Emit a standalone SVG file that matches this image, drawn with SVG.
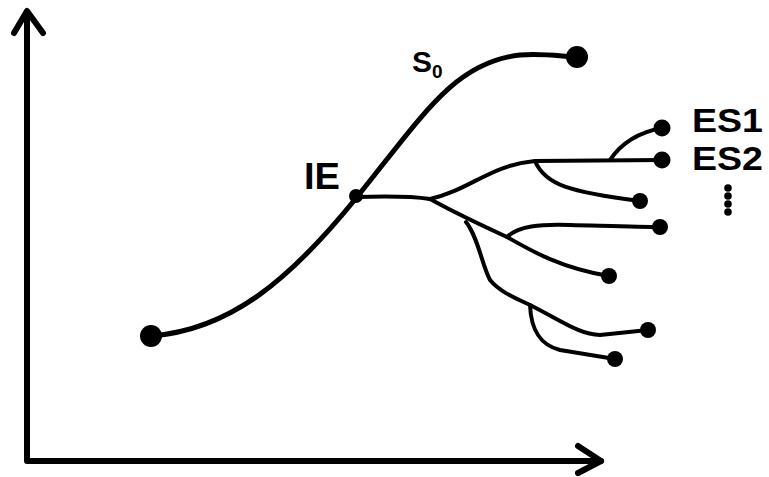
<svg xmlns="http://www.w3.org/2000/svg" width="769" height="477" viewBox="0 0 769 477">
<style>
.ax{fill:none;stroke:#000;stroke-width:6;stroke-linecap:round;stroke-linejoin:round}
.main{fill:none;stroke:#000;stroke-width:5;stroke-linecap:round}
.br{fill:none;stroke:#000;stroke-width:4;stroke-linecap:round;stroke-linejoin:round}
.dot{fill:#000}
.lbl{font-family:"Liberation Sans",Arial,sans-serif;font-weight:bold;fill:#000}
</style>
<g id="axes">
<path class="ax" d="M27,12 V461 H601"/>
<polyline class="ax" points="14,33 27,11 43,33"/>
<polyline class="ax" points="578,446 601,461 578,473"/>
</g>
<g id="connectors">
<path class="main" d="M151,336 C230,330 290,280 357,197 C424,114 455,62 520,55 C545,53 565,57 577,57"/>
<path class="br" d="M357,197 C390,196 410,196 430,199"/>
<path class="br" d="M430,199 C470,190 490,165 535,161 L662,160"/>
<path class="br" d="M610,160 C622,142 640,132 662,128"/>
<path class="br" d="M535,161 C545,185 570,192 640,201"/>
<path class="br" d="M430,199 C450,210 470,220 507,237 C530,250 560,268 609,276"/>
<path class="br" d="M507,237 C518,226 540,224 570,225 C610,226 640,227 660,227"/>
<path class="br" d="M466,222 C478,237 482,265 490,280 C500,292 515,298 530,305 C560,320 580,335 600,335 L648,330"/>
<path class="br" d="M530,305 C531,330 540,345 560,350 L615,359"/>
</g>
<g id="S0">
<circle class="dot" cx="151" cy="336" r="11"/>
<circle class="dot" cx="577" cy="57" r="11"/>
<text class="lbl" x="412" y="72" font-size="30">S</text>
<text class="lbl" x="432" y="78" font-size="19">0</text>
</g>
<g id="IE">
<circle class="dot" cx="356" cy="196" r="7"/>
<text class="lbl" x="304" y="189" font-size="36" textLength="36" lengthAdjust="spacingAndGlyphs">IE</text>
</g>
<g id="ES1">
<circle class="dot" cx="662" cy="128" r="8.5"/>
<text class="lbl" x="692" y="132" font-size="33" textLength="71" lengthAdjust="spacingAndGlyphs">ES1</text>
</g>
<g id="ES2">
<circle class="dot" cx="662" cy="160" r="8.5"/>
<text class="lbl" x="692" y="170" font-size="33" textLength="71" lengthAdjust="spacingAndGlyphs">ES2</text>
</g>
<g id="ES3"><circle class="dot" cx="640" cy="201" r="8"/></g>
<g id="ES4"><circle class="dot" cx="660" cy="227" r="8"/></g>
<g id="ES5"><circle class="dot" cx="609" cy="276" r="8"/></g>
<g id="ES6"><circle class="dot" cx="648" cy="330" r="8"/></g>
<g id="ES7"><circle class="dot" cx="615" cy="359" r="8"/></g>
<g id="ellipsis">
<circle class="dot" cx="728" cy="188" r="3.8"/>
<circle class="dot" cx="728" cy="196" r="3.8"/>
<circle class="dot" cx="728" cy="204" r="3.8"/>
<circle class="dot" cx="728" cy="212" r="3.8"/>
</g>
</svg>
